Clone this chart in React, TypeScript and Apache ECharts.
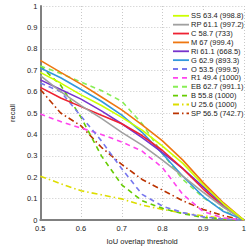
import React, { useEffect, useRef } from "react";
import * as echarts from "echarts";

const xs = [0.5, 0.55, 0.6, 0.65, 0.7, 0.75, 0.8, 0.85, 0.9, 0.95, 1.0];
const names = [
  "SS 63.4 (998.8)",
  "RP 61.1 (997.2)",
  "C 58.7 (733)",
  "M 67 (999.4)",
  "Ri 61.1 (668.5)",
  "G 62.9 (893.3)",
  "O 53.5 (999.5)",
  "R1 49.4 (1000)",
  "EB 62.7 (991.1)",
  "B 55.8 (1000)",
  "U 25.6 (1000)",
  "SP 56.5 (742.7)",
];
const colors = ["#ccff00", "#a0a0a0", "#ee2233", "#ee7711", "#7733cc", "#3399dd", "#7777ee", "#ff44ee", "#88ee55", "#66cc00", "#dddd00", "#bb3300"];
const styles = ["solid", "solid", "solid", "solid", "solid", "solid", "dash", "dash", "dash", "dash", "dashdot", "dashdot"];

const SS = [0.69, 0.64, 0.585, 0.535, 0.48, 0.42, 0.345, 0.265, 0.165, 0.075, 0.0];
const RP = [0.675, 0.6, 0.535, 0.475, 0.41, 0.35, 0.28, 0.205, 0.13, 0.06, 0.0];
const C = [0.62, 0.57, 0.53, 0.49, 0.45, 0.395, 0.325, 0.24, 0.145, 0.062, 0.0];
const M = [0.746, 0.69, 0.635, 0.575, 0.515, 0.445, 0.37, 0.28, 0.175, 0.08, 0.0];
const Ri = [0.655, 0.61, 0.565, 0.51, 0.45, 0.385, 0.315, 0.24, 0.155, 0.07, 0.0];
const G = [0.71, 0.665, 0.61, 0.555, 0.49, 0.41, 0.31, 0.205, 0.11, 0.04, 0.0];
const O = [0.64, 0.6, 0.485, 0.37, 0.24, 0.12, 0.065, 0.035, 0.015, 0.005, 0.0];
const R1 = [0.495, 0.46, 0.43, 0.4, 0.365, 0.322, 0.245, 0.12, 0.04, 0.01, 0.0];
const EB = [0.72, 0.685, 0.645, 0.605, 0.555, 0.45, 0.31, 0.19, 0.105, 0.045, 0.0];
const B = [0.72, 0.63, 0.48, 0.3, 0.165, 0.09, 0.055, 0.03, 0.012, 0.004, 0.0];
const U = [0.205, 0.17, 0.137, 0.118, 0.099, 0.07, 0.05, 0.033, 0.02, 0.008, 0.0];
const SP = [0.61, 0.5, 0.44, 0.34, 0.26, 0.19, 0.14, 0.09, 0.05, 0.02, 0.0];
const allSeries = [SS, RP, C, M, Ri, G, O, R1, EB, B, U, SP];
const yTicks = ["0", "0.1", "0.2", "0.3", "0.4", "0.5", "0.6", "0.7", "0.8", "0.9", "1"];

export default function App() {
  const ref = useRef<HTMLDivElement>(null);
  useEffect(() => {
    const chart = echarts.init(ref.current!, undefined, { renderer: "svg" });
    const font = "Liberation Sans, Arial, sans-serif";
    const dashMap: any = { solid: null, dash: [5, 4], dashdot: [6, 3, 1.5, 3] };
    const series = allSeries.map((d, i) => ({
      name: names[i],
      type: "line",
      data: d.map((v, j) => [xs[j], v]),
      showSymbol: false,
      symbol: "none",
      lineStyle: { color: colors[i], width: 1.6, type: dashMap[styles[i]] || "solid" },
      itemStyle: { color: colors[i] },
      z: 12 - i,
    }));
    const legendX = 173;
    const legendY0 = 15.8;
    const step = 8.87;
    const graphics: any[] = [
      { type: "rect", shape: { x: 170, y: 10, width: 74, height: 108 }, style: { fill: "#fff" }, z: 100 },
    ];
    names.forEach((n, i) => {
      const y = legendY0 + i * step;
      graphics.push({
        type: "line",
        shape: { x1: legendX, y1: y, x2: legendX + 16, y2: y },
        style: { stroke: colors[i], lineWidth: 1.8, lineDash: dashMap[styles[i]] || undefined },
        z: 101,
      });
      graphics.push({
        type: "text",
        x: legendX + 18,
        y,
        style: { text: n, fontSize: 7.5, fill: "#222", fontFamily: font, verticalAlign: "middle" },
        z: 101,
      });
    });
    chart.setOption({
      animation: false,
      backgroundColor: "#fff",
      textStyle: { fontFamily: font },
      grid: { left: 24, right: 5, top: 6, bottom: 21 },
      graphic: graphics,
      xAxis: {
        type: "value",
        min: 0.5,
        max: 1,
        interval: 0.1,
        name: "IoU overlap threshold",
        nameLocation: "middle",
        nameGap: 15,
        nameTextStyle: { fontSize: 7.5, color: "#222" },
        axisLine: { show: true, onZero: false, lineStyle: { color: "#808080", width: 2 } },
        axisTick: { show: false },
        axisLabel: {
          fontSize: 7.5,
          color: "#222",
          margin: 4,
          formatter: (v: number) => (Math.abs(v - 1) < 1e-9 ? "1" : v.toFixed(1)),
        },
        splitLine: { show: true, lineStyle: { color: "#c8c8c8", type: [1, 2], width: 1 } },
      },
      yAxis: {
        type: "value",
        min: 0,
        max: 1,
        interval: 0.1,
        name: "recall",
        nameLocation: "middle",
        nameGap: 19,
        nameTextStyle: { fontSize: 7.5, color: "#222" },
        axisLine: { show: true, lineStyle: { color: "#808080", width: 2 } },
        axisTick: { show: false },
        axisLabel: {
          fontSize: 7.5,
          color: "#222",
          margin: 3,
          formatter: (v: number) => yTicks[Math.round(v * 10)],
        },
        splitLine: { show: true, lineStyle: { color: "#c8c8c8", type: [1, 2], width: 1 } },
      },
      series,
    });
    return () => chart.dispose();
  }, []);
  return <div ref={ref} style={{ width: 249, height: 250, position: "absolute", left: 0, top: 0 }} />;
}
